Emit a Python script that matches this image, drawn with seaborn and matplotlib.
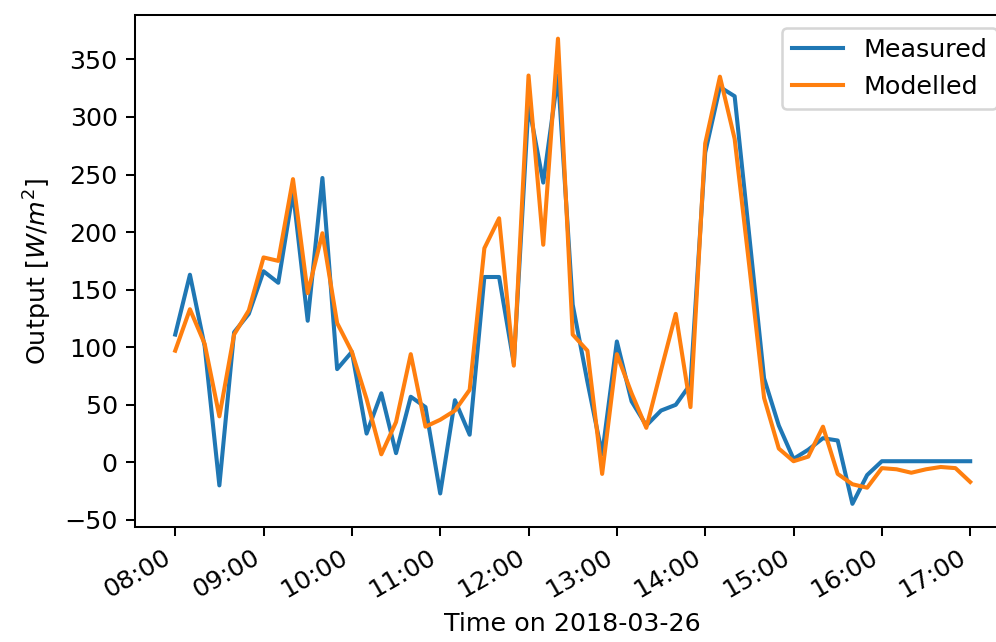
import pandas as pd
import matplotlib
matplotlib.use('Agg')
import matplotlib.pyplot as plt
import matplotlib.dates as mdates
import seaborn as sns

# 10-minute readings on 2018-03-26
times = pd.date_range('2018-03-26 08:00', '2018-03-26 17:00', freq='10min')

measured = [111, 163, 101, -20, 113, 129, 166, 156, 235, 123,
            247, 81, 96, 25, 60, 8, 57, 48, -27, 54,
            24, 161, 161, 86, 311, 243, 336, 137, 70, 7,
            105, 53, 32, 45, 50, 68, 269, 326, 318, 196,
            73, 32, 3, 11, 21, 19, -36, -11, 1, 1,
            1, 1, 1, 1, 1]

modelled = [97, 133, 103, 40, 111, 132, 178, 175, 246, 147,
            199, 121, 96, 55, 7, 35, 94, 31, 37, 45,
            63, 186, 212, 84, 336, 189, 368, 111, 97, -10,
            94, 60, 30, 80, 129, 48, 277, 335, 281, 170,
            56, 12, 1, 5, 31, -10, -19, -22, -5, -6,
            -9, -6, -4, -5, -17]

df = pd.DataFrame({
    'time': list(times) * 2,
    'output': measured + modelled,
    'series': ['Measured'] * len(times) + ['Modelled'] * len(times),
})

dpi = 183
fig, ax = plt.subplots(figsize=(996 / dpi, 642 / dpi), dpi=dpi)
sns.lineplot(data=df, x='time', y='output', hue='series',
             palette=['#1f77b4', '#ff7f0e'], linewidth=1.6, ax=ax)

ax.xaxis.set_major_locator(mdates.HourLocator())
ax.xaxis.set_major_formatter(mdates.DateFormatter('%H:%M'))
ax.yaxis.set_major_locator(plt.MultipleLocator(50))
plt.setp(ax.get_xticklabels(), rotation=30, ha='right')

ax.set_xlabel('Time on 2018-03-26')
ax.set_ylabel('Output [$W/m^2$]')
sns.move_legend(ax, 'upper right', title=None)

fig.subplots_adjust(left=0.136, right=1.014, top=0.976, bottom=0.179)
fig.savefig('out.png')
